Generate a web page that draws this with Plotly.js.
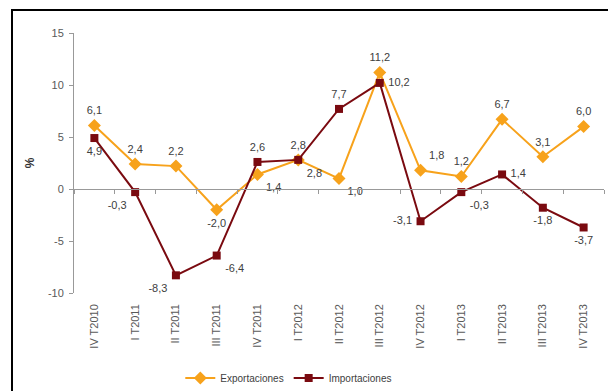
<!DOCTYPE html>
<html><head><meta charset="utf-8">
<script src="https://cdn.plot.ly/plotly-3.0.1.min.js"></script>
<style>
html,body{margin:0;padding:0;background:#fff;}
#wrap{position:relative;width:608px;height:391px;overflow:hidden;}
#chart{width:608px;height:391px;}
#frame{position:absolute;left:11px;top:9px;width:700px;height:500px;border-left:2px solid #000;border-top:2px solid #000;pointer-events:none;}
</style></head>
<body>
<div id="wrap"><div id="chart"></div><div id="frame"></div></div>
<script>
var categories = ["IV T2010","I T2011","II T2011","III T2011","IV T2011","I T2012","II T2012","III T2012","IV T2012","I T2013","II T2013","III T2013","IV T2013"];
var exportaciones = [6.1, 2.4, 2.2, -2.0, 1.4, 2.8, 1.0, 11.2, 1.8, 1.2, 6.7, 3.1, 6.0];
var importaciones = [4.9, -0.3, -8.3, -6.4, 2.6, 2.8, 7.7, 10.2, -3.1, -0.3, 1.4, -1.8, -3.7];
var expPos = ['top center','top center','top center','bottom center','bottom right','bottom right','bottom right','top center','top right','top center','top center','top center','top center'];
var impPos = ['bottom center','bottom left','bottom left','bottom right','top center','top center','top center','middle right','middle left','bottom right','middle right','bottom center','bottom center'];
var yTicks = [-10, -5, 0, 5, 10, 15];

function fmt(v){ return v.toFixed(1).replace('.', ','); }
var orange = '#F7A21B', red = '#7A0A10';
var lblFont = {family:'Liberation Sans, Arial, sans-serif', size:11, color:'#404040'};

var traces = [
  {x:categories, y:exportaciones, name:'Exportaciones', type:'scatter', mode:'lines+markers',
   line:{color:orange, width:2}, marker:{symbol:'diamond', size:10, color:orange}},
  {x:categories, y:importaciones, name:'Importaciones', type:'scatter', mode:'lines+markers',
   line:{color:red, width:2}, marker:{symbol:'square', size:8, color:red}},
  {x:categories, y:exportaciones, mode:'markers+text', text:exportaciones.map(fmt), textposition:expPos,
   marker:{size:12, opacity:0}, textfont:lblFont, showlegend:false, hoverinfo:'skip', cliponaxis:false},
  {x:categories, y:importaciones, mode:'markers+text', text:importaciones.map(fmt), textposition:impPos,
   marker:{size:12, opacity:0}, textfont:lblFont, showlegend:false, hoverinfo:'skip', cliponaxis:false}
];

var yr = [-10, 15];
var layout = {
  width:608, height:391,
  margin:{l:74, r:4, t:33, b:98},
  paper_bgcolor:'#fff', plot_bgcolor:'#fff',
  font:{family:'Liberation Sans, Arial, sans-serif', size:10, color:'#595959'},
  showlegend:true,
  legend:{orientation:'h', xref:'container', yref:'container', x:0.475, xanchor:'center', y:0.033, yanchor:'middle',
          font:{size:10, color:'#404040'}, tracegroupgap:0},
  xaxis:{type:'category', range:[-0.5, 12.5], anchor:'free', position:(0 - yr[0])/(yr[1]-yr[0]),
         showline:true, linecolor:'#999', linewidth:1, ticks:'outside', ticklen:4, tickcolor:'#999',
         tickson:'boundaries', showticklabels:false, showgrid:false, zeroline:false, fixedrange:true},
  xaxis2:{overlaying:'x', anchor:'y', side:'bottom', range:[-0.5, 12.5], type:'linear',
          tickmode:'array', tickvals:categories.map(function(c,i){return i;}), ticktext:categories,
          tickangle:-90, showline:false, ticks:'', showgrid:false, zeroline:false, ticklabelstandoff:8,
          tickfont:{size:11, color:'#595959'}},
  yaxis:{range:yr, tickmode:'array', tickvals:yTicks, ticktext:yTicks.map(String),
         showline:true, linecolor:'#999', linewidth:1, ticks:'outside', ticklen:4, tickcolor:'#999',
         ticklabelstandoff:3,
         showgrid:false, zeroline:false, tickfont:{size:11, color:'#595959'},
         title:{text:'<b>%</b>', font:{size:12, color:'#333'}, standoff:10}}
};
traces.push({x:[0], y:[0], xaxis:'x2', mode:'markers', marker:{opacity:0}, showlegend:false, hoverinfo:'skip'});
Plotly.newPlot('chart', traces, layout, {displayModeBar:false, staticPlot:true});
</script>
</body></html>
